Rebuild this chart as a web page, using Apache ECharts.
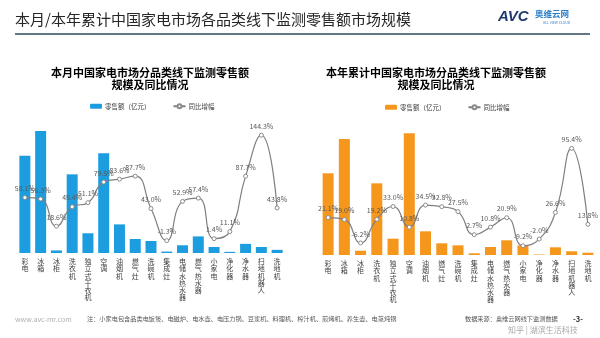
<!DOCTYPE html>
<html><head><meta charset="utf-8">
<script src="https://cdn.jsdelivr.net/npm/echarts@6/dist/echarts.min.js"></script>
<style>html,body{margin:0;padding:0;background:#fff}#c{width:600px;height:338px}</style>
</head><body><div id="c"></div>
<script>
const categories = ['彩电','冰箱','冰柜','洗衣机','独立式干衣机','空调','油烟机','燃气灶','洗碗机','集成灶','电储水热水器','燃气热水器','小家电','净化器','净水器','扫地机器人','洗地机'];
// 本月 零售额（亿元）, estimated
const monthSales = [34.0, 42.7, 0.9, 27.5, 6.9, 34.9, 10.0, 4.9, 4.2, 0.5, 2.7, 5.8, 2.1, 0.4, 3.2, 2.1, 1.1];
// 本月 同比增幅 (%)
const monthYoY = [58.1, 56.3, 18.6, 45.4, 51.1, 79.5, 83.6, 87.7, 43.0, -1.3, 52.9, 57.4, 1.4, 11.1, 87.7, 144.3, 43.8];
// 本年累计 零售额（亿元）, estimated
const ytdSales = [281.7, 400.0, 14.8, 247.2, 56.2, 419.6, 81.7, 40.3, 33.4, 5.9, 27.6, 50.7, 33.4, 1.7, 26.5, 12.8, 7.9];
// 本年累计 同比增幅 (%)
const ytdYoY = [21.1, 19.0, -6.2, 19.2, 33.0, 10.8, 34.5, 32.8, 27.5, 2.7, 10.8, 20.9, -9.2, -2.0, 26.6, 95.4, 13.8];

const legendNames = {m_bar:'零售额（亿元）', m_line:'同比增幅', y_bar:'零售额（亿元）', y_line:'同比增幅'};
const FONT = "'Noto Sans CJK SC', 'Noto Sans', sans-serif";

const chart = echarts.init(document.getElementById('c'), null, {renderer:'canvas'});

function xAxisFor(i){
  return {type:'category', gridIndex:i, data:categories,
    axisLine:{show:false}, axisTick:{show:false},
    axisLabel:{interval:0, fontSize:7, lineHeight:7.2, color:'#404040', margin:5,
      formatter: v => v.split('').join('\n')}};
}
function lineSeries(name, data, yIdx, xIdx){
  return {name, type:'line', xAxisIndex:xIdx, yAxisIndex:yIdx, data, smooth:0.5,
    symbol:'circle', symbolSize:4, showAllSymbol:true,
    lineStyle:{color:'#7f7f7f', width:1.2},
    itemStyle:{color:'#ffffff', borderColor:'#8c8c8c', borderWidth:1},
    label:{show:true, position:'top', distance:3, fontSize:7, color:'#595959',
      formatter: p => Number(p.value).toFixed(1) + '%'},
    z:5};
}
const legendCommon = {itemWidth:12, itemHeight:5, itemGap:22, formatter: n => legendNames[n],
  textStyle:{fontSize:6.5, color:'#404040', padding:[0,0,0,-2]}};

const titleRich = {
  a:{fontSize:11, fontWeight:'bold', color:'#1a1a1a', lineHeight:12, fontFamily:FONT},
  b:{fontSize:11, fontWeight:'bold', color:'#2F80C4', lineHeight:12, fontFamily:FONT}
};

chart.setOption({
  animation:false,
  textStyle:{fontFamily:FONT},
  grid:[{left:17, width:268, top:110, height:143},{left:320, width:276, top:110, height:145}],
  xAxis:[xAxisFor(0), xAxisFor(1)],
  yAxis:[
    {gridIndex:0, min:0, max:50, show:false},
    {gridIndex:0, min:-18.4, max:179.1, show:false},
    {gridIndex:1, min:0, max:500, show:false},
    {gridIndex:1, min:-19.1, max:136.6, show:false}
  ],
  legend:[
    Object.assign({data:['m_bar','m_line'], left:85, top:98}, legendCommon),
    Object.assign({data:['y_bar','y_line'], left:380, top:99}, legendCommon)
  ],
  series:[
    {name:'m_bar', type:'bar', xAxisIndex:0, yAxisIndex:0, data:monthSales, barWidth:11, itemStyle:{color:'#1C9DE0'}},
    lineSeries('m_line', monthYoY, 1, 0),
    {name:'y_bar', type:'bar', xAxisIndex:1, yAxisIndex:2, data:ytdSales, barWidth:11, itemStyle:{color:'#F5961D'}},
    lineSeries('y_line', ytdYoY, 3, 1)
  ],
  graphic:[
    {type:'text', left:15, top:12, style:{text:'本月/本年累计中国家电市场各品类线下监测零售额市场规模', fontSize:15, fill:'#262626', fontFamily:FONT}},
    {type:'line', shape:{x1:15, y1:34, x2:590, y2:34}, style:{stroke:'#2E4A5E', lineWidth:1.5}},
    {type:'text', left:498, top:9, style:{text:'AVC', font:'italic bold 15px Arial, sans-serif', fill:'#1F3A6E'}},
    {type:'text', left:535, top:10, style:{text:'奥维云网', fontSize:8.5, fontWeight:'bold', fill:'#2A7FC8', fontFamily:FONT}},
    {type:'text', left:543, top:21, style:{text:'ALL VIEW CLOUD', fontSize:3.5, fill:'#2A7FC8', fontFamily:FONT}},
    {type:'text', x:150, y:67, style:{text:'{a|本月中国家电市场分品类}{b|线下监测}{a|零售额}\n{a|规模及同比情况}', rich:titleRich, align:'center', verticalAlign:'top'}},
    {type:'text', x:436, y:67, style:{text:'{a|本年累计中国家电市场分品类}{b|线下监测}{a|零售额}\n{a|规模及同比情况}', rich:titleRich, align:'center', verticalAlign:'top'}},
    {type:'text', left:15, top:316, style:{text:'www.avc-mr.com', fontSize:7, fill:'#b0b0b0', fontFamily:FONT}},
    {type:'text', left:87, top:316, style:{text:'注：小家电包含品类电饭煲、电磁炉、电水壶、电压力锅、豆浆机、料理机、榨汁机、煎烤机、养生壶、电蒸炖锅', fontSize:6.2, fill:'#555555', fontFamily:FONT}},
    {type:'text', left:465, top:316, style:{text:'数据来源：奥维云网线下监测数据', fontSize:6.2, fill:'#555555', fontFamily:FONT}},
    {type:'text', left:573, top:315, style:{text:'-3-', fontSize:7.5, fontWeight:'bold', fill:'#333333', fontFamily:FONT}},
    {type:'text', left:508, top:326, style:{text:'知乎 | 湖滨生活科技', fontSize:8, fill:'#a8a8a8', fontFamily:FONT}}
  ]
});
</script></body></html>
